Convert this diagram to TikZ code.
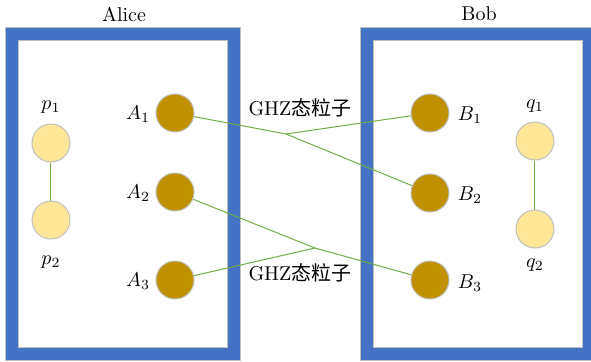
\documentclass[tikz,border=0pt]{standalone}
\usepackage{amsmath}
\usepackage{fontspec}
\newfontfamily\cjk{Noto Sans CJK SC}
\usetikzlibrary{calc}

\definecolor{boxblue}{RGB}{68,114,196}
\definecolor{ghzgold}{RGB}{191,144,0}
\definecolor{qbyellow}{RGB}{255,230,153}
\definecolor{linkgreen}{RGB}{112,173,71}
\definecolor{rimgray}{RGB}{191,191,191}

\tikzset{
  party/.style={fill=boxblue,draw=rimgray,line width=0.5pt,even odd rule},
  ghz/.style={circle,fill=ghzgold,draw=rimgray,line width=0.5pt,minimum size=19pt,inner sep=0pt},
  pair/.style={circle,fill=qbyellow,draw=rimgray,line width=0.5pt,minimum size=19pt,inner sep=0pt},
  link/.style={draw=linkgreen,line width=0.5pt},
  lbl/.style={inner sep=0pt}
}

\newcommand{\ghzlabel}{GHZ{\cjk 态粒子}}

\begin{document}
\begin{tikzpicture}[x=0.5pt,y=-0.5pt]
  \useasboundingbox (0,0) rectangle (591,361);

  %Shape: Alice frame
  \path[party] (6,27) rectangle (241,360) (19,40) rectangle (228,347);
  %Shape: Bob frame
  \path[party] (361,27) rectangle (597,360) (374,40) rectangle (583,347);

  %titles
  \node[lbl] (alice) at (124,14) {Alice};
  \node[lbl] (bob) at (479,14) {Bob};

  %Alice particles
  \node[pair] (p1) at (51,143) {};
  \node[pair] (p2) at (51,220) {};
  \node[ghz] (A1) at (175,113) {};
  \node[ghz] (A2) at (175,192) {};
  \node[ghz] (A3) at (175,280) {};

  %Bob particles
  \node[ghz] (B1) at (430,113) {};
  \node[ghz] (B2) at (430,193) {};
  \node[ghz] (B3) at (430,280) {};
  \node[pair] (q1) at (535,141) {};
  \node[pair] (q2) at (535,229) {};

  %labels
  \node[lbl] (lp1) at (51,107) {$p_1$};
  \node[lbl] (lp2) at (51,262) {$p_2$};
  \node[lbl] (lq1) at (535,106) {$q_1$};
  \node[lbl] (lq2) at (535,265) {$q_2$};
  \node[lbl] (lA1) at (138,114) {$A_1$};
  \node[lbl] (lA2) at (138,193) {$A_2$};
  \node[lbl] (lA3) at (138,281) {$A_3$};
  \node[lbl] (lB1) at (470,115) {$B_1$};
  \node[lbl] (lB2) at (470,195) {$B_2$};
  \node[lbl] (lB3) at (470,283) {$B_3$};
  \node[lbl] (ghz1) at (300,108) {\ghzlabel};
  \node[lbl] (ghz2) at (300,273) {\ghzlabel};

  %GHZ junctions
  \coordinate (j1) at (286,134);
  \coordinate (j2) at (315,248);

  %Straight Lines
  \draw[link] (p1) -- (p2);
  \draw[link] (q1) -- (q2);
  \draw[link] (A1) -- (j1) -- (B2);
  \draw[link] (j1) -- (B1);
  \draw[link] (A2) -- (j2) -- (B3);
  \draw[link] (j2) -- (A3);
\end{tikzpicture}
\end{document}
